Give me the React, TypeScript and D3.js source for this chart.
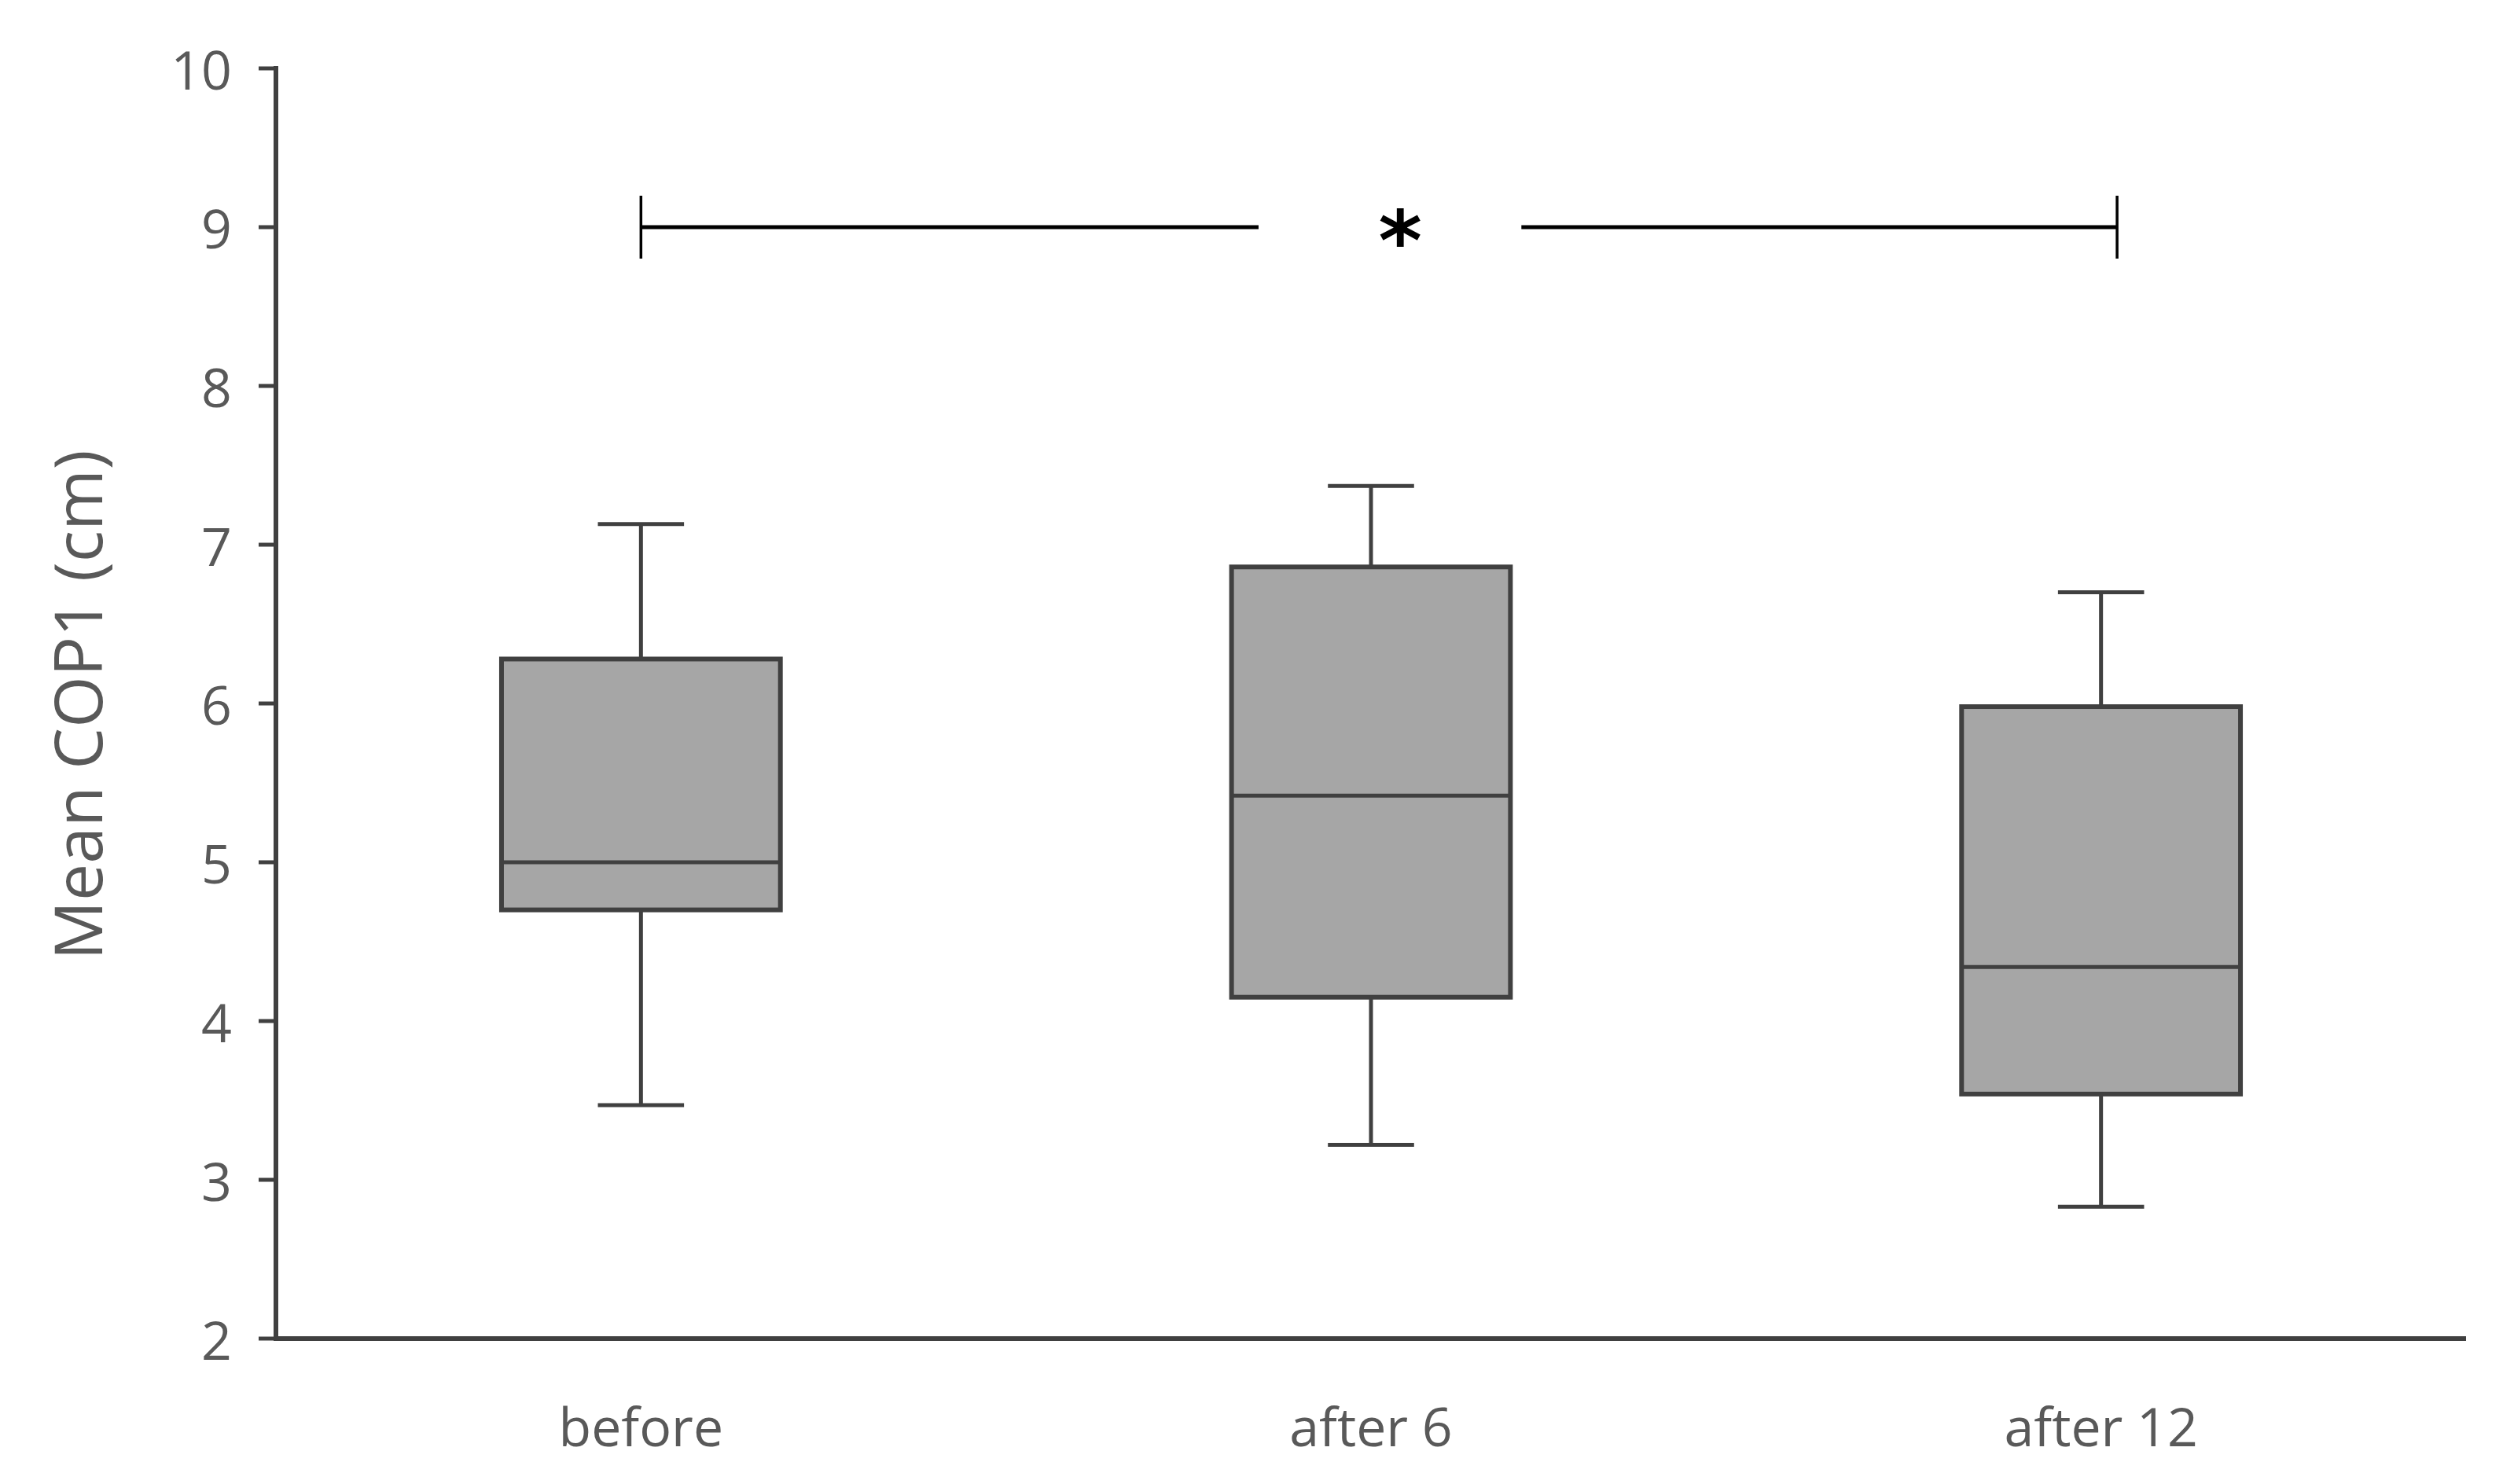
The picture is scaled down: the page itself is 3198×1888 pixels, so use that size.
import React from "react";
import * as d3 from "d3";

const categories = ["before", "after 6", "after 12"];
const whiskerHigh = [7.13, 7.37, 6.7];
const q3Values = [6.28, 6.86, 5.98];
const medians = [5.0, 5.42, 4.34];
const q1Values = [4.7, 4.15, 3.54];
const whiskerLow = [3.47, 3.22, 2.83];
const yTicks = [2, 3, 4, 5, 6, 7, 8, 9, 10];
const yLabel = "Mean COP1 (cm)";
const sigFrom = "before";
const sigTo = "after 12";
const sigLevel = 9;
const sigMark = "*";

const W = 3198;
const H = 1888;
const margin = { left: 351, right: 61, top: 87, bottom: 185 };

export default function App() {
  const x = d3
    .scaleBand<string>()
    .domain(categories)
    .range([margin.left, W - margin.right])
    .padding(0);
  const y = d3
    .scaleLinear()
    .domain([2, 10])
    .range([H - margin.bottom, margin.top]);

  const bw = x.bandwidth();
  const boxW = bw * 0.382;
  const capW = bw * 0.118;
  const stroke = "#404040";
  const textCol = "#595959";
  const font = "'Open Sans', 'Noto Sans', sans-serif";

  const x0 = x(sigFrom)! + bw / 2;
  const x1 = x(sigTo)! + bw / 2 + bw * 0.022;
  const ySig = y(sigLevel);
  const midSig = (x0 + x1) / 2 + bw * 0.015;
  const gapHalf = bw * 0.18;

  return (
    <svg
      width={W}
      height={H}
      style={{ position: "absolute", left: 0, top: 0, background: "#fff" }}
    >
      {/* axes */}
      <line x1={margin.left} x2={margin.left} y1={y(10) - 3} y2={y(2)} stroke={stroke} strokeWidth={6} />
      <line x1={margin.left - 3} x2={W - margin.right} y1={y(2)} y2={y(2)} stroke={stroke} strokeWidth={6} />
      {yTicks.map((t) => (
        <g key={t}>
          <line x1={margin.left - 22} x2={margin.left} y1={y(t)} y2={y(t)} stroke={stroke} strokeWidth={5} />
          <text
            x={margin.left - 56}
            y={y(t)}
            textAnchor="end"
            dominantBaseline="central"
            fontFamily={font}
            fontSize={68}
            fill={textCol}
          >
            {t}
          </text>
        </g>
      ))}
      {categories.map((c) => (
        <text
          key={c}
          x={x(c)! + bw / 2}
          y={H - margin.bottom + 137}
          textAnchor="middle"
          fontFamily={font}
          fontSize={68}
          fill={textCol}
        >
          {c}
        </text>
      ))}
      <text
        transform={`translate(97, ${(y(2) + y(10)) / 2 + 2}) rotate(-90)`}
        textAnchor="middle"
        dominantBaseline="central"
        fontFamily={font}
        fontSize={84}
        fill={textCol}
      >
        {yLabel}
      </text>

      {/* boxes */}
      {categories.map((c, i) => {
        const cx = x(c)! + bw / 2;
        return (
          <g key={c}>
            <line x1={cx} x2={cx} y1={y(whiskerHigh[i])} y2={y(q3Values[i])} stroke={stroke} strokeWidth={5} />
            <line x1={cx} x2={cx} y1={y(q1Values[i])} y2={y(whiskerLow[i])} stroke={stroke} strokeWidth={5} />
            <line x1={cx - capW / 2} x2={cx + capW / 2} y1={y(whiskerHigh[i])} y2={y(whiskerHigh[i])} stroke={stroke} strokeWidth={5} />
            <line x1={cx - capW / 2} x2={cx + capW / 2} y1={y(whiskerLow[i])} y2={y(whiskerLow[i])} stroke={stroke} strokeWidth={5} />
            <rect
              x={cx - boxW / 2}
              y={y(q3Values[i])}
              width={boxW}
              height={y(q1Values[i]) - y(q3Values[i])}
              fill="#a6a6a6"
              stroke={stroke}
              strokeWidth={6}
            />
            <line x1={cx - boxW / 2} x2={cx + boxW / 2} y1={y(medians[i])} y2={y(medians[i])} stroke={stroke} strokeWidth={5} />
          </g>
        );
      })}

      {/* significance bracket */}
      <line x1={x0} x2={midSig - gapHalf} y1={ySig} y2={ySig} stroke="#000" strokeWidth={5} />
      <line x1={midSig + gapHalf} x2={x1} y1={ySig} y2={ySig} stroke="#000" strokeWidth={5} />
      <line x1={x0} x2={x0} y1={ySig - 40} y2={ySig + 40} stroke="#000" strokeWidth={3.5} />
      <line x1={x1} x2={x1} y1={ySig - 40} y2={ySig + 40} stroke="#000" strokeWidth={3.5} />
      <text
        x={midSig + 13}
        y={ySig + 54}
        textAnchor="middle"
        fontFamily="'DejaVu Sans', sans-serif"
        fontWeight={700}
        fontSize={106}
        fill="#000"
      >
        {sigMark}
      </text>
    </svg>
  );
}
